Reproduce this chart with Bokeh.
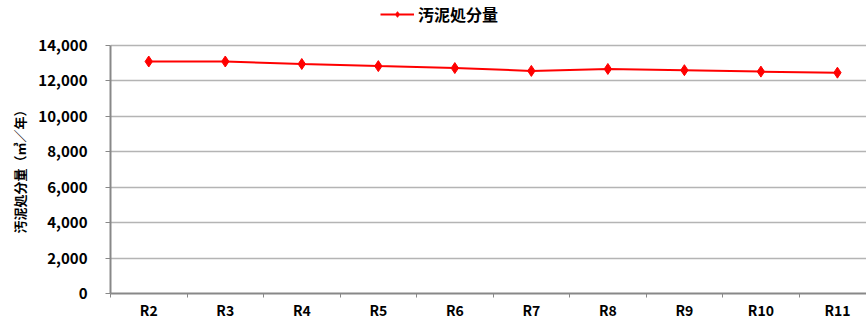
from bokeh.plotting import figure
from bokeh.models import (Range1d, FixedTicker, NumeralTickFormatter, Legend, LegendItem,
                          ColumnDataSource, Title)
from bokeh.embed import file_html
from bokeh.resources import INLINE

categories = ["R2", "R3", "R4", "R5", "R6", "R7", "R8", "R9", "R10", "R11"]
sludge = [13080, 13080, 12940, 12820, 12710, 12550, 12660, 12590, 12510, 12450]
y_ticks = [0, 2000, 4000, 6000, 8000, 10000, 12000, 14000]
series_name = "汚泥処分量"
y_title = "汚泥処分量（㎥／年）"

FONT = "Noto Sans CJK JP"
idx = list(range(len(categories)))
src = ColumnDataSource(dict(x=idx, y=sludge))

# frame spans the whole top of the canvas; the axis itself is bounded to 0..14000
p = figure(width=866, height=322, output_backend="svg", toolbar_location=None,
           x_range=Range1d(-0.5, 9.38), y_range=Range1d(0, 16520),
           min_border_left=109, min_border_right=0, min_border_top=0, min_border_bottom=27)
p.outline_line_color = None
p.background_fill_color = "white"

r_line = p.line("x", "y", source=src, line_color="#ff0000", line_width=2)
r_pts = p.scatter("x", "y", source=src, marker="diamond", size=11,
                  fill_color="#ff0000", line_color="#ff0000")

# x axis
p.xaxis.ticker = FixedTicker(ticks=idx, minor_ticks=[i + 0.5 for i in idx] + [-0.5])
p.xaxis.major_label_overrides = {i: c for i, c in zip(idx, categories)}
p.xaxis.major_tick_line_color = None
p.xaxis.major_tick_out = 4
p.xaxis.minor_tick_line_color = "#888888"
p.xaxis.minor_tick_out = 4
p.xaxis.minor_tick_in = 0
p.xaxis.axis_line_color = "#888888"
p.xaxis.axis_line_width = 2
p.xaxis.major_label_standoff = 2
p.xaxis.major_label_text_font = FONT
p.xaxis.major_label_text_font_style = "bold"
p.xaxis.major_label_text_font_size = "14px"
p.xaxis.major_label_text_color = "#000000"
p.xgrid.grid_line_color = None

# y axis
p.yaxis.bounds = (0, 14000)
p.yaxis.ticker = FixedTicker(ticks=y_ticks, minor_ticks=[])
p.yaxis.formatter = NumeralTickFormatter(format="0,0")
p.yaxis.axis_line_color = "#888888"
p.yaxis.axis_line_width = 2
p.yaxis.major_tick_line_color = "#888888"
p.yaxis.major_tick_out = 5
p.yaxis.major_tick_in = 0
p.yaxis.minor_tick_line_color = None
p.yaxis.major_label_standoff = 18
p.yaxis.major_label_text_font = FONT
p.yaxis.major_label_text_font_style = "bold"
p.yaxis.major_label_text_font_size = "15px"
p.yaxis.major_label_text_color = "#000000"
p.ygrid.grid_line_color = "#b4b4b4"
p.ygrid.grid_line_width = 1.5

# y axis title, placed along the 0..14000 part of the axis
ytitle = Title(text=y_title, align="left", offset=60, standoff=14,
               text_font=FONT, text_font_style="bold", text_font_size="13px",
               text_color="#000000")
p.add_layout(ytitle, "left")

legend = Legend(items=[LegendItem(label=series_name, renderers=[r_line, r_pts])],
                orientation="horizontal", location="top_left",
                border_line_color=None, background_fill_alpha=0,
                label_text_font=FONT, label_text_font_style="bold",
                label_text_font_size="16px", label_text_color="#000000",
                glyph_width=34, glyph_height=14, padding=2, margin=0, spacing=4,
                label_standoff=4)
p.add_layout(legend)
legend.location = (270, 267)

open("out.html", "w").write(file_html(p, INLINE))
